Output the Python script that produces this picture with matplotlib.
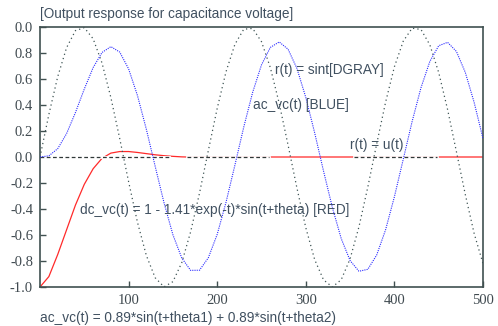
import matplotlib
matplotlib.use('Agg')
import matplotlib.pyplot as plt
import numpy as np

# sample times (x axis) and the three curves
t = list(range(0, 501, 10))

r_sin = [0.000, 0.327, 0.618, 0.841, 0.972, 0.995, 0.909, 0.723, 0.457, 0.141,
         -0.190, -0.502, -0.757, -0.929, -0.999, -0.959, -0.813, -0.576, -0.279, 0.050,
         0.374, 0.657, 0.867, 0.983, 0.989, 0.887, 0.687, 0.412, 0.091, -0.239,
         -0.544, -0.789, -0.945, -1.000, -0.944, -0.783, -0.537, -0.231, 0.100, 0.420,
         0.694, 0.891, 0.991, 0.981, 0.863, 0.650, 0.366, 0.041, -0.288, -0.588,
         -0.820]

ac_vc = [0.000, 0.009, 0.064, 0.180, 0.342, 0.523, 0.688, 0.804, 0.849, 0.807,
         0.678, 0.473, 0.214, -0.072, -0.353, -0.598, -0.777, -0.872, -0.871, -0.775,
         -0.595, -0.347, -0.062, 0.231, 0.497, 0.709, 0.843, 0.885, 0.829, 0.681,
         0.458, 0.186, -0.108, -0.389, -0.628, -0.797, -0.879, -0.864, -0.754, -0.561,
         -0.306, -0.017, 0.273, 0.533, 0.735, 0.856, 0.882, 0.812, 0.651, 0.420,
         0.142]

dc_vc = [-1.000, -0.920, -0.750, -0.560, -0.370, -0.210, -0.090, -0.010, 0.030, 0.042,
         0.042, 0.035, 0.026, 0.017, 0.010, 0.005, 0.001, -0.001, 0.000, 0.000,
         0.000, 0.000, 0.000, 0.000, 0.000, 0.000, 0.000, 0.000, 0.000, 0.000,
         0.000, 0.000, 0.000, 0.000, 0.000, 0.000, 0.000, 0.000, 0.000, 0.000,
         0.000, 0.000, 0.000, 0.000, 0.000, 0.000, 0.000, 0.000, 0.000, 0.000,
         0.000]

# r(t) = u(t) reference line pieces (drawn at 0)
step_start = [0, 166, 354]
step_end = [146, 259, 448]

x_ticks = [100, 200, 300, 400, 500]
y_ticks = [-1.0, -0.8, -0.6, -0.4, -0.2, 0.0, 0.2, 0.4, 0.6, 0.8, 1.0]
y_labels = ['-1.0', '-0.8', '-0.6', '-0.4', '-0.2', '0.0', '0.2', '0.4', '0.6', '0.8', '0.0']

W, H = 498, 326
axis_col = '#405050'
text_col = '#405060'


def px(x, y):
    return x / W, 1 - y / H


fig = plt.figure(figsize=(W / 100, H / 100), dpi=100)
ax = fig.add_axes([40 / W, 1 - 287 / H, 443 / W, 260 / H])

ax.plot(t, dc_vc, color='#ff2a2a', lw=0.9, zorder=2)
for a, b in zip(step_start, step_end):
    ax.plot([a, b], [0, 0], color='white', lw=2.0, zorder=2.5)
    ax.plot([a, b], [0, 0], color='#303838', lw=0.9, ls=(0, (3, 2)), zorder=2.6)
ax.plot(t, r_sin, color='#3f5555', lw=0.9, ls=(0, (1, 2.5)), zorder=3)
ax.plot(t, ac_vc, color='#2a2aff', lw=0.8, ls=(0, (1, 1)), zorder=4)

ax.set_xlim(0, 500)
ax.set_ylim(-1, 1)
ax.set_xticks(x_ticks)
ax.set_xticklabels([str(v) for v in x_ticks])
ax.set_yticks(y_ticks)
ax.set_yticklabels(y_labels)
ax.tick_params(direction='in', length=4, width=1, color=axis_col,
               labelcolor='#404a50', pad=5)
for lab in ax.get_xticklabels() + ax.get_yticklabels():
    lab.set_fontfamily('Liberation Serif')
    lab.set_fontsize(10.5)
for s in ax.spines.values():
    s.set_color(axis_col)
    s.set_linewidth(1.2)

font = dict(family='Liberation Sans', size=9.8, color=text_col, va='center', ha='left')
fig.text(*px(40, 14), '[Output response for capacitance voltage]', **font)
fig.text(*px(275, 70), 'r(t) = sint[DGRAY]', **font)
fig.text(*px(253, 105), 'ac_vc(t) [BLUE]', **font)
fig.text(*px(350, 145), 'r(t) = u(t)', **font)
fig.text(*px(80, 210), 'dc_vc(t) = 1 - 1.41*exp(-t)*sin(t+theta) [RED]', **font)
fig.text(*px(40, 318), 'ac_vc(t) = 0.89*sin(t+theta1) + 0.89*sin(t+theta2)', **font)

fig.savefig('out.png', dpi=100)
